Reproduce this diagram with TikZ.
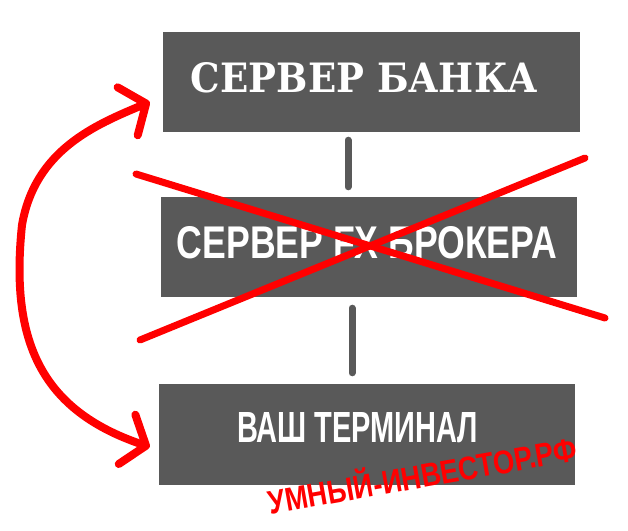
\documentclass[tikz,border=0pt]{standalone}
\usepackage{fontspec}
\usepackage{graphicx}
\usetikzlibrary{arrows.meta,positioning,calc}
\newfontfamily\bankfont{DejaVu Serif}
\newfontfamily\termfont{Liberation Sans}
\definecolor{srvgray}{RGB}{89,89,89}
\definecolor{markred}{RGB}{255,0,0}
\newcommand{\fitlabel}[3]{\resizebox{#1}{#2}{#3}}
\tikzstyle{server} = [rectangle, fill=srvgray, minimum width=416pt, minimum height=100pt, inner sep=0pt]
\tikzstyle{caption} = [text=white, inner sep=0pt]
\tikzstyle{link} = [line width=7pt, line cap=round, color=srvgray]
\tikzstyle{cross} = [line width=7pt, line cap=round, color=markred]
\tikzstyle{route} = [line width=8pt, line cap=round, color=markred, {Straight Barb[length=20pt,width=52pt,round]}-{Straight Barb[length=20pt,width=52pt,round]}]

\begin{document}
\begin{tikzpicture}[x=1pt, y=-1pt]
\useasboundingbox (0,0) rectangle (628,530);

% Bank server
\node (bank) [server, minimum width=417pt] at (371.5,82) {};
\node (banklabel) [caption] at (364.5,78) {\fitlabel{347pt}{30pt}{\bankfont\bfseries СЕРВЕР БАНКА}};

% FX broker server
\node (broker) [server] at (369,247) {};
\node (brokerlabel) [caption] at (367,243) {\fitlabel{380pt}{32pt}{\termfont\bfseries СЕРВЕР FX БРОКЕРА}};

% Your terminal
\node (terminal) [server, minimum height=101pt] at (367,434.5) {};
\node (terminallabel) [caption] at (357.5,428) {\fitlabel{241pt}{30pt}{\termfont\bfseries ВАШ ТЕРМИНАЛ}};

% Links between servers
\draw[link] ([xshift=-23.5pt,yshift=-8pt]bank.south) -- ([xshift=-21pt,yshift=10pt]broker.north);
\draw[link] ([xshift=-17pt,yshift=-11pt]broker.south) -- ([xshift=-15pt,yshift=11pt]terminal.north);

% Broker crossed out
\coordinate (xa) at (136,174);
\coordinate (xb) at (605,318);
\coordinate (xc) at (140,340);
\coordinate (xd) at (585,158);
\draw[cross] (xa) -- (xb);
\draw[cross] (xc) -- (xd);

% Direct route bank <-> terminal
\coordinate (bankin) at ([xshift=-13pt,yshift=-20pt]bank.west);
\coordinate (termin) at ([xshift=-9pt,yshift=-12.5pt]terminal.west);
\draw[route] (bankin) .. controls (95,125) and (35,150) .. (22,225)
  .. controls (10,340) and (40,410) .. (termin);

% Watermark
\node (mark) [text=markred, inner sep=0pt, rotate=10] at (422,473) {\scalebox{1}[1.2]{\resizebox{313pt}{!}{\termfont\bfseries\fontsize{30}{30}\selectfont УМНЫЙ-ИНВЕСТОР.РФ}}};

\end{tikzpicture}
\end{document}
